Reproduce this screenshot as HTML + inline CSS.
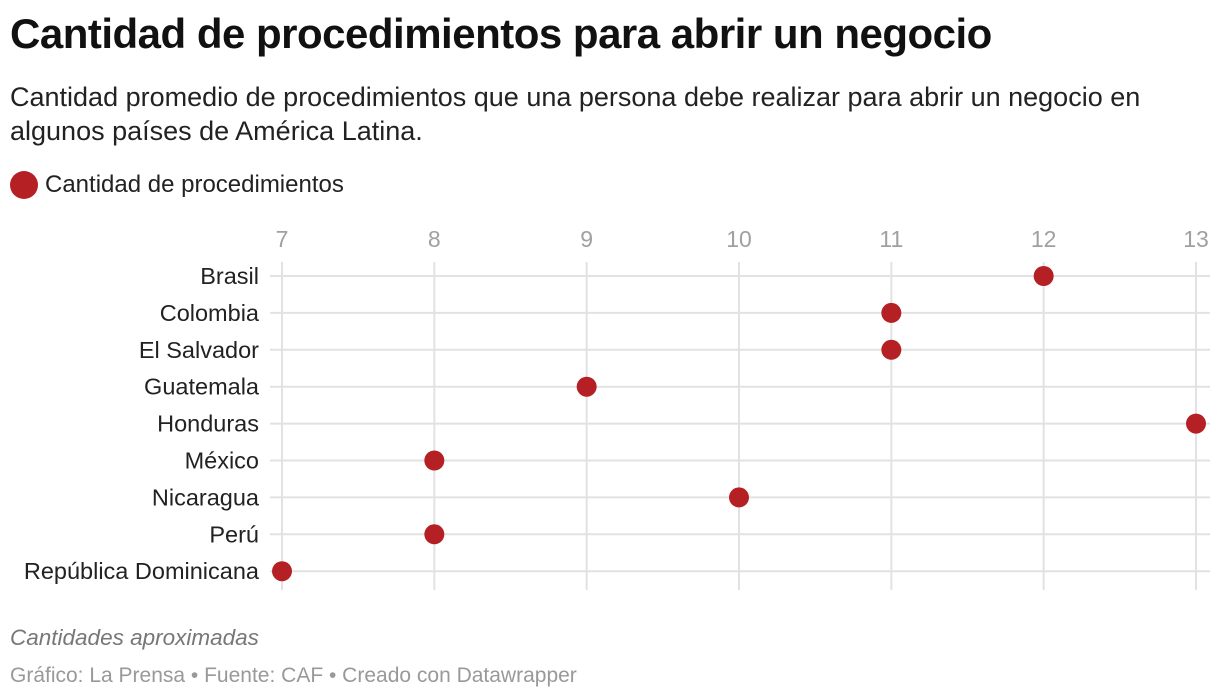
<!DOCTYPE html>
<html><head><meta charset="utf-8"><style>
body{margin:0;width:1220px;height:700px;background:#fff;font-family:"Liberation Sans",sans-serif;overflow:hidden;position:relative}
.t{position:absolute;left:10px;top:10px;font-size:42px;font-weight:bold;color:#111;letter-spacing:-0.5px;white-space:nowrap}
.s{position:absolute;left:10px;top:80px;font-size:27px;line-height:34px;color:#222;width:1200px}
.lg{position:absolute;left:10px;top:171px;font-size:24px;color:#222;display:flex;align-items:center}
.dot{width:28px;height:28px;border-radius:50%;background:#b52024;margin-right:7px}
.n{position:absolute;left:10px;top:625px;font-size:22.5px;font-style:italic;color:#777}
.f{position:absolute;left:10px;top:664px;font-size:21px;color:#999}
svg{position:absolute;left:0;top:0}
</style></head><body>
<div class="t">Cantidad de procedimientos para abrir un negocio</div>
<div class="s">Cantidad promedio de procedimientos que una persona debe realizar para abrir un negocio en algunos países de América Latina.</div>
<div class="lg"><div class="dot"></div>Cantidad de procedimientos</div>
<svg id="c" width="1220" height="700"></svg>
<div class="n">Cantidades aproximadas</div>
<div class="f">Gráfico: La Prensa • Fuente: CAF • Creado con Datawrapper</div>
<script>
const categories=["Brasil","Colombia","El Salvador","Guatemala","Honduras","México","Nicaragua","Perú","República Dominicana"];
const values=[12,11,11,9,13,8,10,8,7];
const ticks=[7,8,9,10,11,12,13];
const svg=document.getElementById('c');
const NS='http://www.w3.org/2000/svg';
const x=v=>282+(v-7)*(1196-282)/6;
const y=i=>276+i*36.9;
function mk(t,a){const e=document.createElementNS(NS,t);for(const k in a)e.setAttribute(k,a[k]);svg.appendChild(e);return e;}
ticks.forEach(t=>{
 const l=mk('line',{x1:x(t),x2:x(t),y1:262,y2:590,stroke:'#e2e2e2','stroke-width':2});
 
 
 const tx=mk('text',{x:x(t),y:247,'text-anchor':'middle','font-size':23,fill:'#a0a0a0','font-family':'Liberation Sans, sans-serif'});
 tx.textContent=t;
 
 
});
categories.forEach((c,i)=>{
 const l=mk('line',{x1:270,x2:1210,y1:y(i),y2:y(i),stroke:'#e2e2e2','stroke-width':2});
 
 
 const tx=mk('text',{x:259,y:y(i)+8,'text-anchor':'end','font-size':23.5,fill:'#222','font-family':'Liberation Sans, sans-serif'});
 tx.textContent=c;
 
 
});
categories.forEach((c,i)=>{
 const d=mk('circle',{cx:x(values[i]),cy:y(i),r:10,fill:'#b52024'});
 
 
});
</script>
</body></html>
